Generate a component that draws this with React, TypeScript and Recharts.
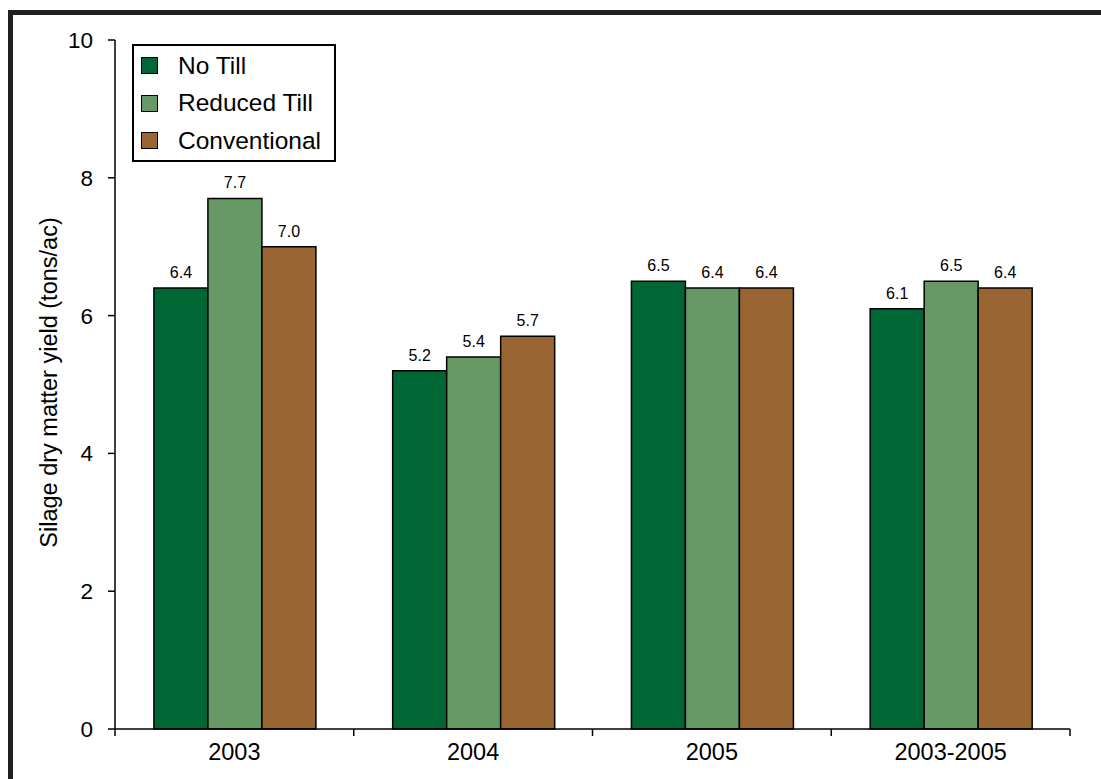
import React from "react";
import { Bar, BarChart, LabelList, XAxis, YAxis } from "recharts";

const years = ["2003", "2004", "2005", "2003-2005"];
const noTill = [6.4, 5.2, 6.5, 6.1];
const reducedTill = [7.7, 5.4, 6.4, 6.5];
const conventional = [7.0, 5.7, 6.4, 6.4];
const yTicks = [0, 2, 4, 6, 8, 10];

const series = [
  { key: "noTill", name: "No Till", color: "#006633" },
  { key: "reducedTill", name: "Reduced Till", color: "#669966" },
  { key: "conventional", name: "Conventional", color: "#996633" },
];

const data = years.map((year, i) => ({
  year,
  noTill: noTill[i],
  reducedTill: reducedTill[i],
  conventional: conventional[i],
}));

const font = "Arial, 'Liberation Sans', sans-serif";
const W = 1101;
const H = 779;
const margin = { top: 40, right: 31, bottom: 0, left: 0 };
const yAxisWidth = 115;
const band = (W - margin.left - margin.right - yAxisWidth) / years.length;
const labelGap = 14;

// legend sits inside the plot, so keep it out of recharts' layout
function LegendBox() {
  return (
    <div
      style={{
        position: "absolute",
        left: 132,
        top: 44,
        width: 204,
        height: 118,
        boxSizing: "border-box",
        border: "2px solid #000",
        background: "#fff",
        padding: "1px 0 0 7px",
        fontFamily: font,
        fontSize: 24.5,
        color: "#000",
      }}
    >
      {series.map((s) => (
        <div key={s.key} style={{ height: 37.5, display: "flex", alignItems: "center" }}>
          <span
            style={{
              width: 17,
              height: 17,
              boxSizing: "border-box",
              background: s.color,
              border: "1.5px solid #000",
              marginRight: 20,
            }}
          />
          {s.name}
        </div>
      ))}
    </div>
  );
}

// category label plus tick marks on the band edges, as in the original
function XTick({ x, y, payload, index }: any) {
  const y0 = y - labelGap;
  const last = index === years.length - 1;
  return (
    <g>
      <line x1={x - band / 2} x2={x - band / 2} y1={y0} y2={y0 + 7} stroke="#000" strokeWidth={1.5} />
      {last && (
        <line x1={x + band / 2} x2={x + band / 2} y1={y0} y2={y0 + 7} stroke="#000" strokeWidth={1.5} />
      )}
      <text x={x} y={y} dy="0.71em" textAnchor="middle" fontFamily={font} fontSize={23.5} fill="#000">
        {payload.value}
      </text>
    </g>
  );
}

function YLabel({ viewBox }: any) {
  const cy = viewBox.y + viewBox.height / 2 - 2;
  return (
    <text
      x={49}
      y={cy}
      transform={`rotate(-90, 49, ${cy})`}
      textAnchor="middle"
      dominantBaseline="central"
      fontFamily={font}
      fontSize={23.5}
      fill="#000"
    >
      Silage dry matter yield (tons/ac)
    </text>
  );
}

export default function App() {
  return (
    <div style={{ position: "absolute", left: 0, top: 0, width: W, height: H, background: "#fff" }}>
      <div style={{ position: "absolute", left: 8, top: 10, right: 0, height: 5, background: "#231f20" }} />
      <div style={{ position: "absolute", left: 8, top: 10, bottom: 0, width: 5, background: "#231f20" }} />
      <BarChart
        width={W}
        height={H}
        data={data}
        margin={margin}
        barCategoryGap="16.3%"
        barGap={0}
        style={{ fontFamily: font }}
      >
        <XAxis
          dataKey="year"
          height={50}
          stroke="#000"
          strokeWidth={1.5}
          tickLine={false}
          tickSize={0}
          tickMargin={labelGap}
          interval={0}
          tick={<XTick />}
        />
        <YAxis
          width={yAxisWidth}
          domain={[0, 10]}
          ticks={yTicks}
          tickSize={7}
          tickMargin={15}
          stroke="#000"
          strokeWidth={1.5}
          tick={{ fontSize: 22.5, fill: "#000" }}
          label={<YLabel />}
        />
        {series.map((s) => (
          <Bar
            key={s.key}
            dataKey={s.key}
            name={s.name}
            fill={s.color}
            stroke="#000"
            strokeWidth={1.5}
            isAnimationActive={false}
          >
            <LabelList
              dataKey={s.key}
              position="top"
              offset={10}
              formatter={(v: any) => Number(v).toFixed(1)}
              style={{ fontSize: 16, fill: "#000", fontFamily: font }}
            />
          </Bar>
        ))}
      </BarChart>
      <LegendBox />
    </div>
  );
}
